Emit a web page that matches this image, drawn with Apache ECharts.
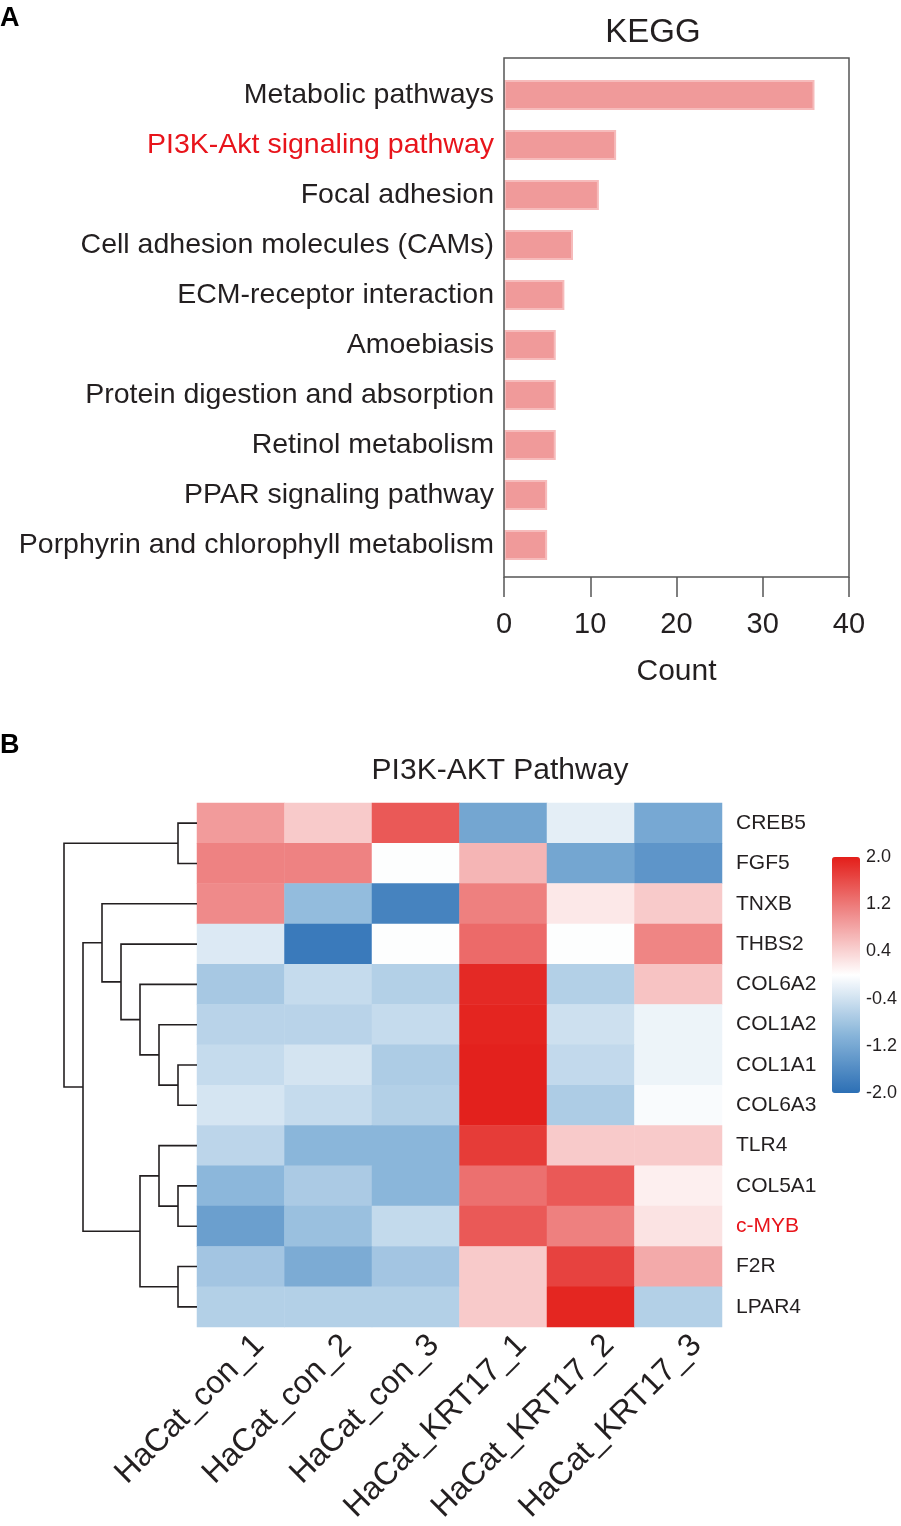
<!DOCTYPE html>
<html>
<head>
<meta charset="UTF-8">
<title>KEGG / PI3K-AKT Pathway</title>
<script src="https://cdn.jsdelivr.net/npm/echarts@6/dist/echarts.min.js"></script>
<style>
    html, body { margin: 0; padding: 0; background: #fff; }
    #chart { width: 901px; height: 1526px; }
</style>
</head>
<body>
<div id="chart"></div>
<script type="text/javascript">
    // ---- panel A data
    var keggTerms = ['Metabolic pathways', 'PI3K-Akt signaling pathway', 'Focal adhesion',
        'Cell adhesion molecules (CAMs)', 'ECM-receptor interaction', 'Amoebiasis',
        'Protein digestion and absorption', 'Retinol metabolism', 'PPAR signaling pathway',
        'Porphyrin and chlorophyll metabolism'];
    var keggCounts = [36, 13, 11, 8, 7, 6, 6, 6, 5, 5];
    var keggHighlight = 'PI3K-Akt signaling pathway';

    // ---- panel B data
    var genes = ['CREB5', 'FGF5', 'TNXB', 'THBS2', 'COL6A2', 'COL1A2', 'COL1A1',
        'COL6A3', 'TLR4', 'COL5A1', 'c-MYB', 'F2R', 'LPAR4'];
    var geneHighlight = 'c-MYB';
    var samples = ['HaCat_con_1', 'HaCat_con_2', 'HaCat_con_3',
        'HaCat_KRT17_1', 'HaCat_KRT17_2', 'HaCat_KRT17_3'];
    var expr = [
        [0.90, 0.48, 1.48, -1.23, -0.23, -1.20],
        [1.12, 1.12, -0.02, 0.67, -1.23, -1.47],
        [1.05, -0.92, -1.72, 1.14, 0.21, 0.48],
        [-0.30, -1.85, -0.02, 1.33, -0.02, 1.10],
        [-0.75, -0.50, -0.65, 1.90, -0.65, 0.54],
        [-0.60, -0.60, -0.50, 1.94, -0.43, -0.15],
        [-0.50, -0.37, -0.70, 1.97, -0.52, -0.15],
        [-0.36, -0.50, -0.65, 1.97, -0.70, -0.05],
        [-0.57, -1.00, -1.00, 1.74, 0.48, 0.48],
        [-0.98, -0.72, -1.00, 1.28, 1.48, 0.14],
        [-1.33, -0.86, -0.51, 1.48, 1.14, 0.25],
        [-0.79, -1.15, -0.79, 0.48, 1.68, 0.77],
        [-0.65, -0.65, -0.65, 0.48, 1.93, -0.65]
    ];
    // row dendrogram, hclust style: [childA, childB, height]
    // leaves are row indices 0..12, merge k gets id 13 + k
    var merges = [
        [6, 7, 1],
        [5, 13, 2],
        [4, 14, 3],
        [3, 15, 4],
        [2, 16, 5],
        [9, 10, 1],
        [8, 18, 2],
        [11, 12, 1],
        [19, 20, 3],
        [17, 21, 6],
        [0, 1, 1],
        [23, 22, 7]
    ];
    var legendTicks = ['-2.0', '-1.2', '-0.4', '0.4', '1.2', '2.0'];

    var FONT = "'Liberation Sans', Arial, sans-serif";
    var INK = '#231F20';
    var RED = '#E8141B';

    // build the tree segments
    var nodes = genes.map(function (g, i) { return { y: i, h: 0 }; });
    var treeLines = [];
    merges.forEach(function (m) {
        var a = nodes[m[0]], b = nodes[m[1]], h = m[2];
        treeLines.push({ coords: [[a.h, a.y], [h, a.y], [h, b.y], [b.h, b.y]] });
        nodes.push({ y: (a.y + b.y) / 2, h: h });
    });

    var heatData = [];
    expr.forEach(function (row, r) {
        row.forEach(function (v, c) { heatData.push([c, r, v]); });
    });

    var myChart = echarts.init(document.getElementById('chart'));

    var option = {
        backgroundColor: '#fff',
        textStyle: { fontFamily: FONT, color: INK },
        title: [
            { text: 'A', left: 0, top: 5, padding: 0, textStyle: { fontFamily: FONT, fontSize: 27, fontWeight: 'bold', color: '#000' } },
            { text: 'KEGG', left: 653, top: 16, padding: 0, textAlign: 'center', textStyle: { fontFamily: FONT, fontSize: 33, fontWeight: 'normal', color: INK } },
            { text: 'B', left: 0, top: 732, padding: 0, textStyle: { fontFamily: FONT, fontSize: 27, fontWeight: 'bold', color: '#000' } },
            { text: 'PI3K-AKT Pathway', left: 500, top: 756, padding: 0, textAlign: 'center', textStyle: { fontFamily: FONT, fontSize: 30, fontWeight: 'normal', color: INK } }
        ],
        grid: [
            { left: 504, top: 70, width: 345, height: 500 },      // bars
            { left: 197, top: 803, width: 525, height: 524 },     // heatmap
            { left: 64, top: 803, width: 133, height: 524 },      // dendrogram
            { left: 832, top: 857, width: 28, height: 236 }       // colour key labels
        ],
        xAxis: [
            {
                gridIndex: 0, type: 'value', min: 0, max: 40, interval: 10, offset: 7,
                splitLine: { show: false },
                axisLine: { show: false },
                axisTick: { show: true, length: 20, lineStyle: { color: '#555', width: 1.5 } },
                axisLabel: { margin: 33, fontSize: 29, color: INK, fontFamily: FONT },
                name: 'Count', nameLocation: 'middle', nameGap: 80,
                nameTextStyle: { fontSize: 30, color: INK, fontFamily: FONT }
            },
            {
                gridIndex: 1, type: 'category', data: samples, position: 'bottom',
                axisLine: { show: false }, axisTick: { show: false },
                axisLabel: {
                    rotate: 45, fontSize: 32, margin: 9, verticalAlign: 'top', padding: [0, -10, 0, 0],
                    color: INK, fontFamily: FONT, interval: 0
                }
            },
            { gridIndex: 2, type: 'value', min: 0, max: 7, inverse: true, show: false },
            { gridIndex: 3, type: 'value', show: false }
        ],
        yAxis: [
            {
                gridIndex: 0, type: 'category', data: keggTerms, inverse: true,
                axisLine: { show: false }, axisTick: { show: false },
                axisLabel: {
                    margin: 10, fontSize: 28.5, color: INK, fontFamily: FONT,
                    formatter: function (v) { return v === keggHighlight ? '{hl|' + v + '}' : v; },
                    rich: { hl: { color: RED, fontSize: 28.5, fontFamily: FONT } }
                }
            },
            {
                gridIndex: 1, type: 'category', data: genes, inverse: true, position: 'right',
                axisLine: { show: false }, axisTick: { show: false },
                axisLabel: {
                    margin: 14, fontSize: 21, color: INK, fontFamily: FONT,
                    formatter: function (v) { return v === geneHighlight ? '{hl|' + v + '}' : v; },
                    rich: { hl: { color: RED, fontSize: 21, fontFamily: FONT } }
                }
            },
            { gridIndex: 2, type: 'value', min: -0.5, max: genes.length - 0.5, inverse: true, show: false },
            {
                gridIndex: 3, type: 'category', data: legendTicks, boundaryGap: false, position: 'right',
                axisLine: { show: false }, axisTick: { show: false },
                axisLabel: { margin: 6, fontSize: 18, color: INK, fontFamily: FONT }
            }
        ],
        visualMap: {
            type: 'continuous', min: -2, max: 2, seriesIndex: 1,
            left: 832, top: 857, padding: 0, itemWidth: 28, itemHeight: 236,
            calculable: false, text: null, hoverLink: false,
            inRange: { color: ['#2C6FB5', '#8AB6DA', '#FFFFFF', '#F09090', '#E31E19'] }
        },
        graphic: [
            {
                type: 'rect', shape: { x: 504, y: 58, width: 345, height: 519 },
                style: { fill: 'none', stroke: '#555', lineWidth: 1.5 }, z: 10
            }
        ],
        series: [
            {
                type: 'bar', xAxisIndex: 0, yAxisIndex: 0, data: keggCounts, barWidth: 30,
                itemStyle: { color: '#F09A9A', borderColor: '#F6BBBB', borderWidth: 2 }
            },
            {
                type: 'heatmap', xAxisIndex: 1, yAxisIndex: 1, data: heatData,
                itemStyle: { borderWidth: 0 }
            },
            {
                type: 'lines', coordinateSystem: 'cartesian2d', xAxisIndex: 2, yAxisIndex: 2,
                polyline: true, data: treeLines,
                lineStyle: { color: INK, width: 1.6, opacity: 1 }
            }
        ]
    };
    myChart.setOption(option);
</script>
</body>
</html>
